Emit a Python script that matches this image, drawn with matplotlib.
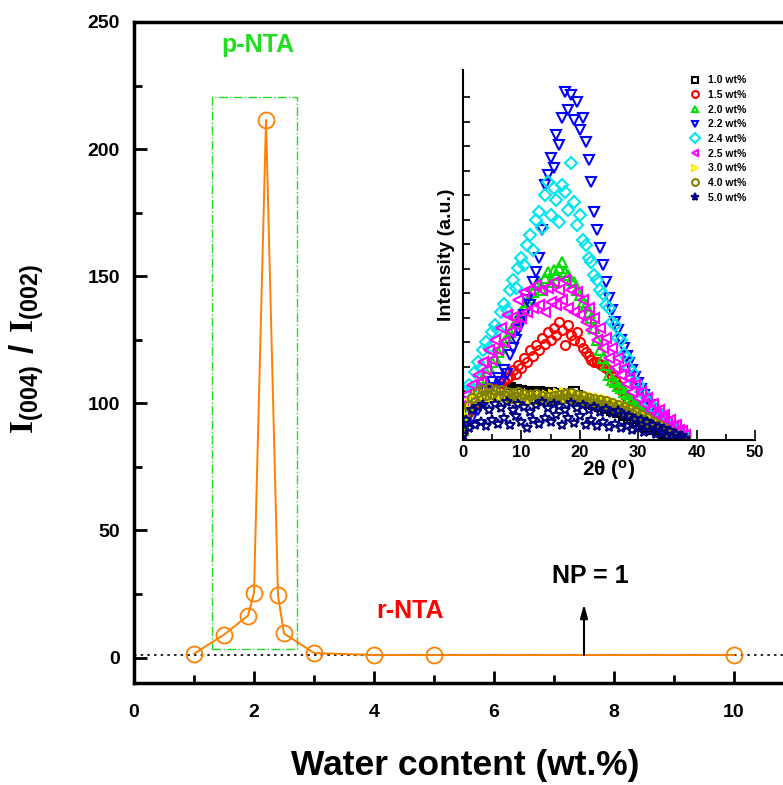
import matplotlib
matplotlib.use("Agg")
import matplotlib.pyplot as plt
from matplotlib.patches import Rectangle

plt.rcParams['font.family'] = ['Liberation Sans', 'DejaVu Sans']
plt.rcParams['font.weight'] = 'bold'
plt.rcParams['mathtext.fontset'] = 'custom'
plt.rcParams['mathtext.bf'] = 'Liberation Serif:bold'
plt.rcParams['mathtext.rm'] = 'Liberation Serif:bold'
plt.rcParams['mathtext.sf'] = 'Liberation Sans:bold'

# ---------------- main data ----------------
water_content = [1.0, 1.5, 1.9, 2.0, 2.2, 2.4, 2.5, 3.0, 4.0, 5.0, 10.0]
intensity_ratio = [1.5, 9.0, 16.5, 25.5, 211.5, 24.5, 9.5, 1.8, 1.0, 1.0, 1.0]
np_level = 1.0
xticks_main = [0, 2, 4, 6, 8, 10]
yticks_main = [0, 50, 100, 150, 200, 250]

# ---------------- inset data (2theta in degrees, intensity a.u.) ----------------
two_theta = [0.0, 0.5, 1.0, 1.5, 2.0, 2.5, 3.0, 3.5, 4.0, 4.5, 5.0, 5.5, 6.0, 6.5, 7.0, 7.5,
             8.0, 8.5, 9.0, 9.5, 10.0, 10.5, 11.0, 11.5, 12.0, 12.5, 13.0, 13.5, 14.0, 14.5,
             15.0, 15.5, 16.0, 16.5, 17.0, 17.5, 18.0, 18.5, 19.0, 19.5, 20.0, 20.5, 21.0,
             21.5, 22.0, 22.5, 23.0, 23.5, 24.0, 24.5, 25.0, 25.5, 26.0, 26.5, 27.0, 27.5,
             28.0, 28.5, 29.0, 29.5, 30.0, 30.5, 31.0, 31.5, 32.0, 32.5, 33.0, 33.5, 34.0,
             34.5, 35.0, 35.5, 36.0, 36.5, 37.0, 37.5, 38.0]

xrd_1_0 = [10, 25, 32, 38, 42, 40, 45, 43, 48, 44, 47, 45, 49, 46, 50, 47, 52, 48, 50, 46,
           49, 45, 48, 44, 47, 45, 48, 44, 46, 43, 47, 44, 46, 43, 45, 42, 46, 43, 48, 44,
           42, 40, 41, 38, 39, 36, 37, 34, 35, 32, 33, 30, 30, 28, 28, 25, 25, 22, 22, 19,
           19, 16, 16, 13, 13, 11, 11, 9, 8, 7, 6, 5, 4, 3, 2, 1, 0]
xrd_1_5 = [8, 20, 28, 32, 36, 38, 42, 44, 46, 48, 50, 52, 55, 57, 60, 62, 64, 70, 66, 75,
           72, 82, 78, 90, 84, 95, 90, 102, 96, 108, 100, 112, 105, 118, 110, 95, 115, 105,
           100, 108, 98, 92, 88, 84, 80, 78, 78, 76, 74, 72, 70, 64, 60, 55, 50, 46, 42, 39,
           36, 33, 30, 28, 26, 24, 22, 20, 18, 16, 14, 12, 10, 9, 7, 5, 4, 3, 2]
xrd_2_0 = [10, 25, 35, 40, 48, 52, 58, 62, 68, 72, 78, 82, 88, 92, 98, 102, 108, 112, 118,
           122, 128, 132, 138, 142, 148, 155, 158, 150, 162, 168, 158, 170, 165, 172, 178,
           168, 165, 160, 158, 150, 145, 138, 135, 128, 122, 112, 100, 90, 82, 75, 65, 60,
           58, 54, 52, 48, 46, 42, 40, 36, 34, 30, 28, 25, 23, 20, 18, 16, 14, 12, 10, 8, 7,
           5, 4, 3, 2]
xrd_2_2 = [5, 18, 26, 22, 35, 30, 42, 38, 50, 45, 58, 52, 62, 58, 70, 66, 85, 92, 100, 110,
           118, 125, 140, 135, 158, 168, 182, 210, 255, 265, 282, 272, 305, 295, 322, 348,
           330, 345, 320, 338, 310, 322, 298, 280, 258, 228, 210, 192, 175, 158, 142, 130,
           118, 110, 100, 92, 84, 77, 70, 63, 57, 51, 45, 40, 35, 30, 26, 22, 18, 15, 12, 9,
           7, 5, 4, 2, 1]
xrd_2_4 = [30, 48, 55, 50, 68, 78, 72, 90, 98, 92, 108, 115, 110, 128, 136, 130, 150, 160,
           152, 172, 182, 175, 195, 205, 190, 220, 228, 212, 245, 258, 225, 252, 240, 218,
           255, 248, 230, 277, 238, 215, 225, 200, 195, 182, 178, 165, 160, 150, 146, 135,
           132, 118, 115, 102, 100, 86, 82, 72, 68, 58, 56, 48, 46, 39, 37, 31, 30, 26, 24,
           20, 19, 15, 13, 10, 9, 6, 4]
xrd_2_5 = [30, 45, 38, 55, 48, 65, 58, 78, 70, 90, 80, 100, 90, 112, 98, 125, 108, 123, 115,
           140, 122, 148, 128, 150, 132, 155, 135, 150, 128, 152, 138, 158, 135, 150, 140,
           160, 132, 150, 128, 148, 125, 140, 118, 132, 110, 122, 100, 112, 92, 102, 82, 92,
           72, 82, 65, 72, 56, 62, 48, 55, 42, 48, 36, 42, 30, 36, 26, 30, 22, 25, 18, 20,
           14, 15, 10, 9, 5]
xrd_3_0 = [8, 22, 30, 36, 40, 43, 41, 45, 42, 46, 43, 45, 42, 46, 43, 45, 41, 44, 42, 45,
           41, 44, 40, 43, 41, 44, 40, 43, 41, 44, 42, 45, 43, 46, 44, 47, 43, 46, 42, 45,
           42, 44, 41, 43, 40, 42, 39, 41, 38, 40, 37, 38, 35, 36, 33, 34, 31, 31, 29, 28,
           26, 25, 23, 22, 20, 19, 17, 16, 14, 13, 11, 10, 8, 7, 5, 4, 2]
xrd_4_0 = [15, 28, 35, 42, 38, 48, 44, 50, 45, 52, 46, 50, 44, 50, 45, 48, 42, 47, 43, 48,
           42, 46, 40, 45, 41, 46, 40, 44, 39, 43, 38, 44, 40, 45, 41, 46, 42, 47, 41, 45,
           40, 44, 38, 42, 37, 41, 36, 40, 35, 39, 34, 37, 32, 35, 30, 33, 28, 31, 26, 28,
           23, 25, 20, 22, 17, 18, 14, 15, 11, 12, 9, 8, 6, 5, 3, 2, 1]
xrd_5_0 = [5, 20, 12, 30, 15, 33, 18, 35, 14, 30, 20, 36, 16, 32, 22, 38, 15, 30, 24, 36,
           18, 33, 12, 28, 20, 35, 16, 38, 22, 32, 18, 36, 25, 34, 15, 30, 22, 37, 17, 32,
           24, 35, 15, 30, 20, 33, 14, 28, 18, 31, 13, 27, 16, 29, 12, 25, 14, 24, 10, 21,
           12, 20, 8, 18, 9, 15, 6, 13, 7, 11, 4, 9, 3, 6, 2, 4, 1]

inset_series = [
    ("1.0 wt%", xrd_1_0, 's', 'black'),
    ("1.5 wt%", xrd_1_5, 'o', 'red'),
    ("2.0 wt%", xrd_2_0, '^', '#00dd00'),
    ("2.2 wt%", xrd_2_2, 'v', '#0000ff'),
    ("2.4 wt%", xrd_2_4, 'D', '#00e5ee'),
    ("2.5 wt%", xrd_2_5, '<', '#ff00ff'),
    ("3.0 wt%", xrd_3_0, '>', '#ffee00'),
    ("4.0 wt%", xrd_4_0, 'o', '#808000'),
    ("5.0 wt%", xrd_5_0, '*', '#000080'),
]

W, H = 783, 785
fig = plt.figure(figsize=(W / 100, H / 100), dpi=100)

# main axes: x from 0 to 11 (right part cropped by figure edge)
ax = fig.add_axes([134 / W, (H - 683) / H, 660 / W, (683 - 22) / H])
ax.set_xlim(0, 11)
ax.set_ylim(-10, 250)

orange = '#ff8000'
ax.axhline(np_level, color='black', ls=(0, (1.5, 2.5)), lw=1.2, zorder=1)
ax.plot(water_content, intensity_ratio, '-', color=orange, lw=1.4, zorder=3)
ax.plot(water_content, intensity_ratio, 'o', mfc='none', mec=orange, ms=11.5, mew=1.3, zorder=4)

ax.add_patch(Rectangle((1.3, 3.5), 1.42, 217.0, fill=False, ec='#22dd22',
                       ls='-.', lw=1.0, zorder=2))
ax.text(2.07, 241, 'p-NTA', color='#22dd22', fontsize=18, fontweight='bold',
        ha='center', va='center')
ax.text(4.6, 18.5, 'r-NTA', color='#ff0000', fontsize=18, fontweight='bold',
        ha='center', va='center')
ax.text(7.6, 32, 'NP = 1', color='black', fontsize=18, fontweight='bold',
        ha='center', va='center')
ax.annotate('', xy=(7.5, 21), xytext=(7.5, np_level),
            arrowprops=dict(arrowstyle='-|>,head_length=0.8,head_width=0.22',
                            color='black', lw=1.5, shrinkA=0, shrinkB=0))

ax.set_xticks(xticks_main)
ax.set_xticks([1, 3, 5, 7, 9, 11], minor=True)
ax.set_yticks(yticks_main)
ax.set_yticks([25, 75, 125, 175, 225], minor=True)
ax.tick_params(which='both', direction='in', width=2, labelsize=14)
ax.tick_params(which='major', length=9, pad=10)
ax.tick_params(which='minor', length=6)
ax.tick_params(axis='x', which='major', pad=15)
for lab in ax.get_xticklabels() + ax.get_yticklabels():
    lab.set_fontweight('bold')
for s in ax.spines.values():
    s.set_linewidth(2.5)

fig.text(465 / W, 1 - 766 / H, 'Water content (wt.%)', fontsize=25.5, fontweight='bold',
         ha='center', va='center')
fig.text(27 / W, 1 - 349 / H,
         r'$\mathbf{I}_{\mathsf{(004)}}\ \mathsf{/}\ \mathbf{I}_{\mathsf{(002)}}$',
         fontsize=24, rotation=90, ha='center', va='center')

# inset axes
axi = fig.add_axes([463 / W, (H - 440) / H, 292 / W, 370 / H])
axi.set_xlim(0, 50)
axi.set_ylim(0, 370)
for label, vals, mk, col in inset_series:
    n = min(len(vals), len(two_theta))
    axi.plot(two_theta[:n], vals[:n], linestyle='none', marker=mk, mfc='none', mec=col,
             ms=6.5 if mk != '*' else 7.5, mew=1.5, label=label)
axi.spines['top'].set_visible(False)
axi.spines['right'].set_visible(False)
for s in ['left', 'bottom']:
    axi.spines[s].set_linewidth(1.5)
axi.set_xticks([0, 10, 20, 30, 40, 50])
axi.set_xticks([5, 15, 25, 35, 45], minor=True)
axi.set_yticks([24.5 * k for k in range(1, 15)])
axi.set_yticklabels([])
axi.tick_params(which='both', direction='in', width=1.2)
axi.tick_params(which='major', length=7, labelsize=12)
axi.tick_params(which='minor', length=4)
axi.tick_params(axis='y', length=5)
for lab in axi.get_xticklabels():
    lab.set_fontweight('bold')
axi.set_xlabel(r'2$\mathsf{\theta}$ ($\mathsf{^{o}}$)', fontsize=15, fontweight='bold', labelpad=-1)
axi.set_ylabel('Intensity (a.u.)', fontsize=14, fontweight='bold', labelpad=2)

leg = axi.legend(loc='upper left', bbox_to_anchor=(682 / W, 1 - 68 / H),
                 bbox_transform=fig.transFigure, frameon=False, fontsize=7.5,
                 handlelength=1.0, handletextpad=0.8, labelspacing=0.45,
                 borderpad=0.2, markerscale=0.75)
for t in leg.get_texts():
    t.set_fontweight('bold')

fig.savefig('out.png', dpi=100)
